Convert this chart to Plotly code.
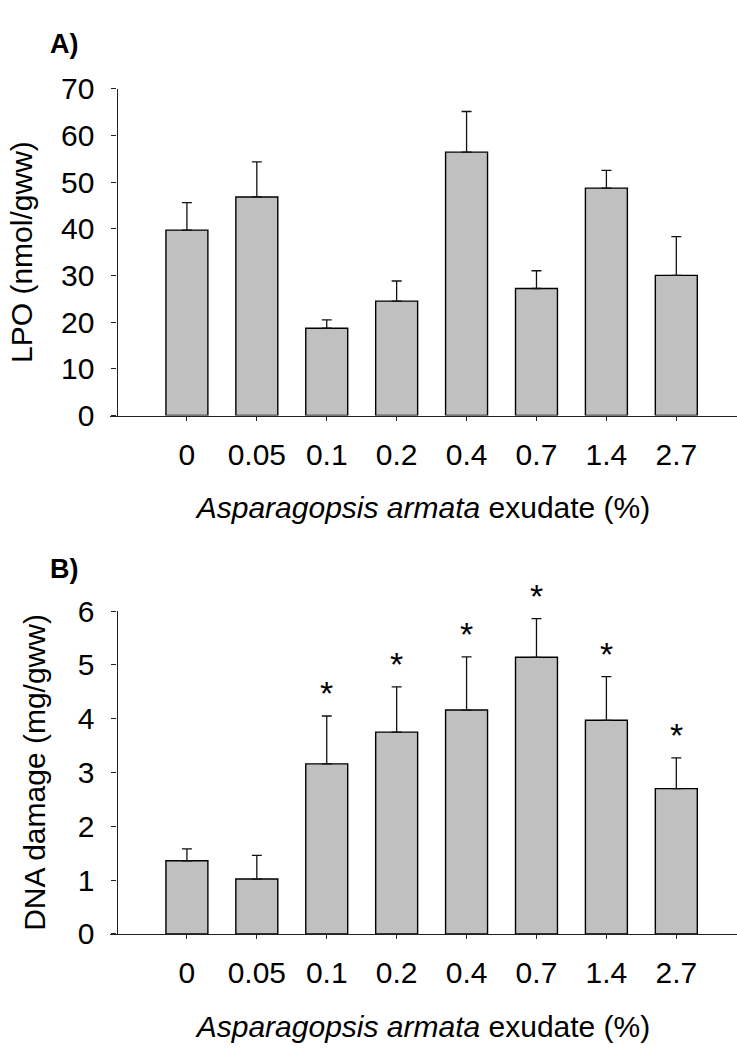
import plotly.graph_objects as go

categories = ["0", "0.05", "0.1", "0.2", "0.4", "0.7", "1.4", "2.7"]
lpo_mean = [39.7, 46.8, 18.7, 24.5, 56.4, 27.2, 48.7, 30.0]
lpo_err = [5.9, 7.5, 1.8, 4.3, 8.7, 3.8, 3.8, 8.3]
dna_mean = [1.36, 1.02, 3.16, 3.75, 4.16, 5.14, 3.97, 2.70]
dna_err = [0.22, 0.44, 0.89, 0.84, 0.99, 0.72, 0.81, 0.57]
dna_sig = [False, False, True, True, True, True, True, True]

FONT = "Liberation Sans, Arial, Helvetica, sans-serif"
FS = 30
W, H = 737, 1061
xpos = list(range(len(categories)))

fig = go.Figure()

bar_style = dict(marker=dict(color="#c0c0c0", line=dict(color="#000000", width=1.4)),
                 width=0.6, showlegend=False)
err_style = dict(type="data", symmetric=False, color="#111111", thickness=1.3, width=5)

fig.add_trace(go.Bar(x=xpos, y=lpo_mean,
                     error_y=dict(array=lpo_err, arrayminus=[0] * len(lpo_err), **err_style),
                     xaxis="x", yaxis="y", **bar_style))
fig.add_trace(go.Bar(x=xpos, y=dna_mean,
                     error_y=dict(array=dna_err, arrayminus=[0] * len(dna_err), **err_style),
                     xaxis="x2", yaxis="y2", **bar_style))

xdom = [110 / W, 1.0]
ypos = 116.5 / W
xrange = [-1.10, 7.868]

axis_common = dict(showline=True, linecolor="#222222", linewidth=1.3, ticks="outside",
                   tickcolor="#222222", tickwidth=1.2, showgrid=False, zeroline=False,
                   tickfont=dict(family=FONT, size=FS, color="#000000"))

xtitle = dict(text="<i>Asparagopsis armata</i> exudate (%)",
              font=dict(family=FONT, size=FS, color="#000000"), standoff=27)

fig.update_layout(
    width=W, height=H, margin=dict(l=0, r=0, t=0, b=0),
    plot_bgcolor="white", paper_bgcolor="white", bargap=0.4,
    xaxis=dict(domain=xdom, range=xrange, anchor="y", tickmode="array", tickvals=xpos,
               ticktext=categories, ticklen=4, ticklabelstandoff=8, title=xtitle,
               **axis_common),
    yaxis=dict(domain=[1 - 411.7 / H, 1 - 74 / H], range=[0, 70], dtick=10, anchor="free",
               position=ypos, ticklen=5, ticklabelstandoff=11,
               title=dict(text="LPO (nmol/gww)", font=dict(family=FONT, size=FS, color="#000000"),
                          standoff=18),
               **axis_common),
    xaxis2=dict(domain=xdom, range=xrange, anchor="y2", tickmode="array", tickvals=xpos,
                ticktext=categories, ticklen=4, ticklabelstandoff=8, title=xtitle,
                **axis_common),
    yaxis2=dict(domain=[1 - 947.3 / H, 1 - 613.7 / H], range=[0, 6], dtick=1, anchor="free",
                position=ypos, ticklen=5, ticklabelstandoff=11,
                title=dict(text="DNA damage (mg/gww)", font=dict(family=FONT, size=FS, color="#000000"),
                           standoff=22),
                **axis_common),
)

# Panel labels
fig.add_annotation(text="<b>A)</b>", x=48 / W, y=1 - 28 / H, xref="paper", yref="paper",
                   xanchor="left", yanchor="middle", showarrow=False,
                   font=dict(family=FONT, size=27, color="#000000"))
fig.add_annotation(text="<b>B)</b>", x=48 / W, y=1 - 570 / H, xref="paper", yref="paper",
                   xanchor="left", yanchor="middle", showarrow=False,
                   font=dict(family=FONT, size=27, color="#000000"))

# Significance stars
for i, sig in enumerate(dna_sig):
    if sig:
        fig.add_annotation(text="*", x=xpos[i], y=dna_mean[i] + dna_err[i], xref="x2", yref="y2",
                           xanchor="center", yanchor="bottom", showarrow=False, yshift=2,
                           font=dict(family=FONT, size=34, color="#000000"))

fig.write_html("out.html")
